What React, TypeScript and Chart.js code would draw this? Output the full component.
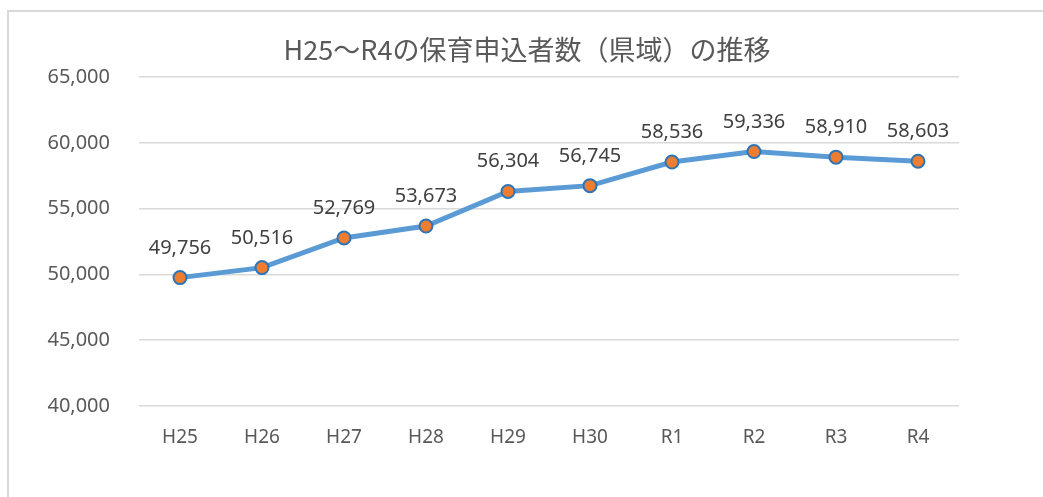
import React, { useEffect, useRef } from "react";
import { Chart, registerables } from "chart.js";

Chart.register(...registerables);

const categories = ["H25", "H26", "H27", "H28", "H29", "H30", "R1", "R2", "R3", "R4"];
const applicants = [49756, 50516, 52769, 53673, 56304, 56745, 58536, 59336, 58910, 58603];
const titleText = "H25～R4の保育申込者数（県域）の推移";
const yMin = 40000;
const yMax = 65000;
const yStep = 5000;

const fmt = (v: number) => v.toLocaleString("en-US");
const LATIN = "'Noto Sans', 'Noto Sans CJK JP', sans-serif";

const dataLabelPlugin = {
  id: "dataLabels",
  afterDatasetsDraw(chart: any) {
    const ctx = chart.ctx;
    const meta = chart.getDatasetMeta(0);
    const data = chart.data.datasets[0].data as number[];
    ctx.save();
    ctx.font = `20px ${LATIN}`;
    ctx.fillStyle = "#404040";
    ctx.textAlign = "center";
    ctx.textBaseline = "alphabetic";
    meta.data.forEach((pt: any, i: number) => {
      ctx.fillText(fmt(data[i]), pt.x, pt.y - 24);
    });
    ctx.restore();
  },
};

const titlePlugin = {
  id: "centeredTitle",
  afterDraw(chart: any) {
    const ctx = chart.ctx;
    ctx.save();
    ctx.font = "27px 'Noto Sans CJK JP', sans-serif";
    ctx.fillStyle = "#595959";
    ctx.textAlign = "center";
    ctx.textBaseline = "middle";
    ctx.fillText(titleText, 527, 50);
    ctx.restore();
  },
};

export default function App() {
  const ref = useRef<HTMLCanvasElement>(null);
  useEffect(() => {
    if (!ref.current) return;
    const chart = new Chart(ref.current, {
      type: "line",
      data: {
        labels: categories,
        datasets: [
          {
            data: applicants,
            borderColor: "#5B9BD5",
            borderWidth: 5,
            pointBackgroundColor: "#ED7D31",
            pointBorderColor: "#2E75B6",
            pointBorderWidth: 2,
            pointRadius: 6.5,
            tension: 0,
          },
        ],
      },
      options: {
        animation: false,
        responsive: false,
        layout: { padding: { left: 0, right: 84, top: 77, bottom: 0 } },
        plugins: {
          legend: { display: false },
          tooltip: { enabled: false },
          title: { display: false },
        },
        scales: {
          x: {
            offset: true,
            grid: { display: false, drawTicks: false },
            border: { display: false },
            ticks: { color: "#595959", font: { size: 19, family: LATIN }, padding: 20 },
            afterFit: (s: any) => { s.height = 91; },
          },
          y: {
            min: yMin,
            max: yMax,
            grid: { color: "#D9D9D9", lineWidth: 1.5, drawTicks: false },
            border: { display: false },
            ticks: {
              stepSize: yStep,
              color: "#595959",
              font: { size: 20, family: LATIN },
              padding: 29,
              callback: (v: any) => fmt(Number(v)),
            },
            afterFit: (s: any) => { s.width = 139; },
          },
        },
      },
      plugins: [dataLabelPlugin, titlePlugin],
    });
    return () => chart.destroy();
  }, []);

  return (
    <div style={{ position: "fixed", left: 0, top: 0, width: 1043, height: 497, background: "#fff", overflow: "hidden" }}>
      <div
        style={{
          position: "absolute",
          left: 7,
          top: 10,
          width: 1100,
          height: 600,
          borderLeft: "2px solid #D9D9D9",
          borderTop: "2px solid #D9D9D9",
        }}
      />
      <canvas ref={ref} width={1043} height={497} style={{ position: "absolute", left: 0, top: 0 }} />
    </div>
  );
}
